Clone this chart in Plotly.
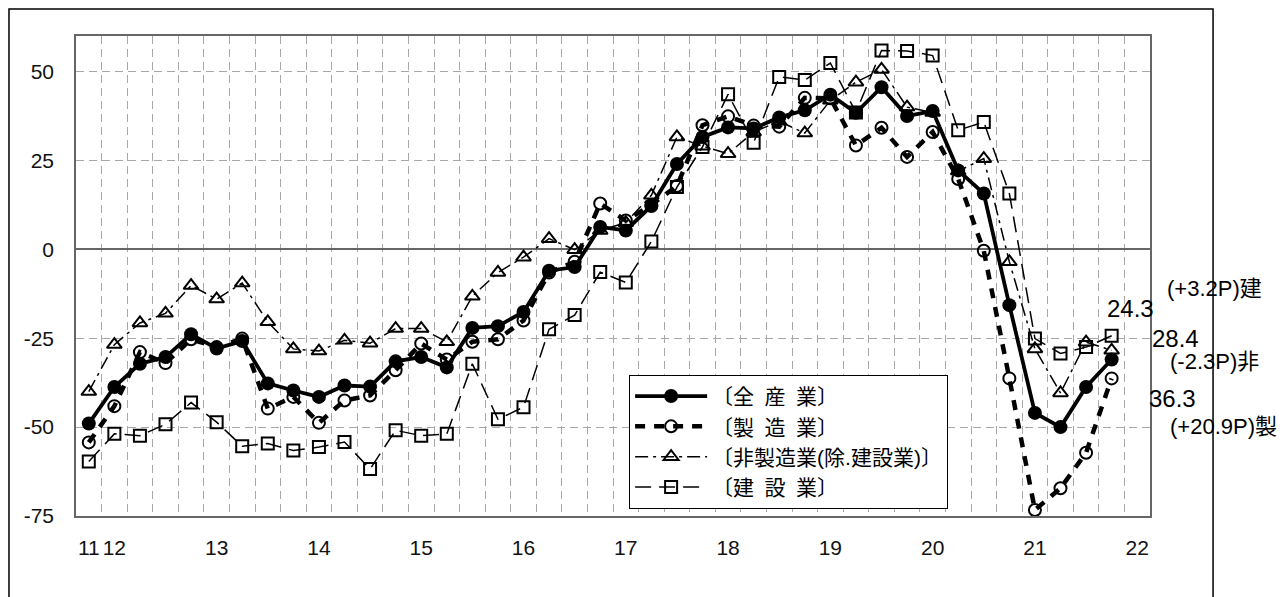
import plotly.graph_objects as go

# Quarterly survey periods (year-end quarter of 2011 through 2021)
periods = [
    "2011Q4",
    "2012Q1", "2012Q2", "2012Q3", "2012Q4",
    "2013Q1", "2013Q2", "2013Q3", "2013Q4",
    "2014Q1", "2014Q2", "2014Q3", "2014Q4",
    "2015Q1", "2015Q2", "2015Q3", "2015Q4",
    "2016Q1", "2016Q2", "2016Q3", "2016Q4",
    "2017Q1", "2017Q2", "2017Q3", "2017Q4",
    "2018Q1", "2018Q2", "2018Q3", "2018Q4",
    "2019Q1", "2019Q2", "2019Q3", "2019Q4",
    "2020Q1", "2020Q2", "2020Q3", "2020Q4",
    "2021Q1", "2021Q2", "2021Q3", "2021Q4",
]

# Year labels on the horizontal axis and the period each one sits on
year_labels = ["11", "12", "13", "14", "15", "16", "17", "18", "19", "20", "21", "22"]
year_periods = ["2011Q4", "2012Q1", "2013Q1", "2014Q1", "2015Q1", "2016Q1",
                "2017Q1", "2018Q1", "2019Q1", "2020Q1", "2021Q1", "2022Q1"]

all_industries = [
    -49.0, -38.7, -32.2, -30.3, -23.9, -27.9, -25.8, -37.7, -39.7, -41.5,
    -38.3, -38.6, -31.5, -30.3, -33.2, -22.1, -21.6, -17.6, -6.0, -5.0,
    6.3, 5.3, 12.2, 24.0, 31.6, 34.3, 34.0, 37.1, 39.1, 43.5,
    38.4, 45.6, 37.5, 38.9, 22.2, 15.7, -15.7, -46.0, -50.0, -38.7,
    -31.0,
]
manufacturing = [
    -54.3, -44.1, -28.9, -32.0, -25.3, -27.5, -25.1, -44.8, -41.5, -48.8,
    -42.5, -41.1, -34.0, -26.5, -31.0, -26.0, -25.3, -20.0, -6.5, -3.5,
    12.9, 8.1, 12.5, 17.8, 34.9, 37.4, 34.8, 34.5, 42.6, 42.5,
    29.2, 34.2, 26.0, 33.0, 19.8, -0.4, -36.3, -73.3, -67.2, -57.2,
    -36.3,
]
non_manufacturing = [
    -40.0, -26.8, -20.7, -18.0, -10.2, -14.0, -9.5, -20.4, -28.0, -28.6,
    -25.6, -26.4, -22.3, -22.3, -26.0, -13.2, -6.5, -2.2, 3.0, -0.1,
    5.3, 7.5, 15.2, 31.6, 29.0, 26.9, 33.0, 36.0, 32.7, 41.9,
    47.0, 50.6, 40.0, 38.5, 22.0, 25.5, -3.5, -28.0, -40.4, -26.1,
    -28.4,
]
construction = [
    -59.7, -51.9, -52.4, -49.2, -43.1, -48.6, -55.4, -54.6, -56.6, -55.6,
    -54.2, -61.8, -50.9, -52.4, -51.9, -32.2, -47.8, -44.4, -22.5, -18.5,
    -6.4, -9.3, 2.2, 17.5, 28.8, 43.6, 30.0, 48.5, 47.6, 52.4,
    38.5, 55.9, 55.8, 54.5, 33.5, 35.8, 15.7, -25.1, -29.3, -27.5,
    -24.3,
]

y_ticks = [-75, -50, -25, 0, 25, 50]

# Position of every period along the axis (one slot per quarter)
slots = {p: i for i, p in enumerate(periods)}
slots[year_periods[-1]] = len(periods)
x = [slots[p] for p in periods]
tick_x = [slots[p] for p in year_periods]

FONT = "Liberation Sans, Arial, Noto Sans CJK JP, sans-serif"
SP = "\u2002"

fig = go.Figure()

# drawn back to front: construction, non-manufacturing, manufacturing, all industries
fig.add_trace(go.Scatter(
    x=x, y=construction, mode="lines+markers",
    name=f"〔建{SP}設{SP}業〕", legendrank=4,
    line=dict(color="black", width=1.5, dash="16px,8px"),
    marker=dict(symbol="square-open", size=12, color="black", line=dict(width=2)),
))
fig.add_trace(go.Scatter(
    x=x, y=non_manufacturing, mode="lines+markers",
    name="〔非製造業(除.建設業)〕", legendrank=3,
    line=dict(color="black", width=1.5, dash="13px,5px,3px,5px"),
    marker=dict(symbol="triangle-up-open", size=13, color="black", line=dict(width=2)),
))
fig.add_trace(go.Scatter(
    x=x, y=manufacturing, mode="lines+markers",
    name=f"〔製{SP}造{SP}業〕", legendrank=2,
    line=dict(color="black", width=4.5, dash="10px,9px"),
    marker=dict(symbol="circle-open", size=12, color="black", line=dict(width=2)),
))
fig.add_trace(go.Scatter(
    x=x, y=all_industries, mode="lines+markers",
    name=f"〔全{SP}産{SP}業〕", legendrank=1,
    line=dict(color="black", width=3.8),
    marker=dict(symbol="circle", size=14, color="black"),
))

# end-of-series labels: latest level and change from the previous quarter
def level_text(series):
    return f"{abs(series[-1]):.1f}"

def change_text(series, short):
    return f"({series[-1] - series[-2]:+.1f}P){short}"

annotations = [
    dict(text=level_text(construction), x=0.9823, y=0.4333, xanchor="center", font_size=24),
    dict(text=level_text(non_manufacturing), x=1.0242, y=0.3708, xanchor="center", font_size=24),
    dict(text=level_text(manufacturing), x=1.0205, y=0.2458, xanchor="center", font_size=24),
    dict(text=change_text(construction, "建"), x=1.0140, y=0.475, xanchor="left", font_size=22),
    dict(text=change_text(non_manufacturing, "非"), x=1.0168, y=0.3229, xanchor="left", font_size=22),
    dict(text=change_text(manufacturing, "製"), x=1.0168, y=0.1875, xanchor="left", font_size=22),
]
for a in annotations:
    fig.add_annotation(
        text=a["text"], x=a["x"], y=a["y"], xref="paper", yref="paper",
        xanchor=a["xanchor"], yanchor="middle", showarrow=False,
        font=dict(family=FONT, size=a["font_size"], color="black"),
    )

# outer frame around the whole chart
fig.add_shape(type="rect", xref="paper", yref="paper",
              x0=-0.0624, x1=1.0587, y0=-0.2, y1=1.05625,
              line=dict(color="black", width=1.5), layer="above")

fig.update_layout(
    width=1284, height=597,
    margin=dict(l=76, r=134, t=36, b=81),
    paper_bgcolor="white", plot_bgcolor="white",
    font=dict(family=FONT, size=21, color="black"),
    showlegend=True,
    legend=dict(
        x=0.515, y=0.294, xanchor="left", yanchor="top",
        bgcolor="white", bordercolor="black", borderwidth=1,
        font=dict(family=FONT, size=21, color="black"),
        itemwidth=72, tracegroupgap=0,
    ),
)

fig.update_xaxes(
    range=[-0.5, len(periods) + 0.5],
    tickmode="array", tickvals=tick_x, ticktext=year_labels,
    showgrid=False, ticks="", ticklabelstandoff=12,
    tickfont=dict(family=FONT, size=21, color="#111"),
    showline=True, linecolor="#666", linewidth=1.5, mirror=True,
    minor=dict(tick0=0.5, dtick=1, showgrid=True, gridcolor="#a8a8a8",
               griddash="8px,5px", gridwidth=1, ticks=""),
    zeroline=False,
)
fig.update_yaxes(
    range=[-75, 60],
    tickmode="array", tickvals=y_ticks, ticktext=[str(v) for v in y_ticks],
    showgrid=True, gridcolor="#a8a8a8", griddash="8px,5px", gridwidth=1,
    zeroline=True, zerolinecolor="#666", zerolinewidth=1.5,
    ticks="", ticklabelstandoff=16,
    tickfont=dict(family=FONT, size=21, color="#111"),
    showline=True, linecolor="#666", linewidth=1.5, mirror=True,
)

fig.write_html("out.html")
